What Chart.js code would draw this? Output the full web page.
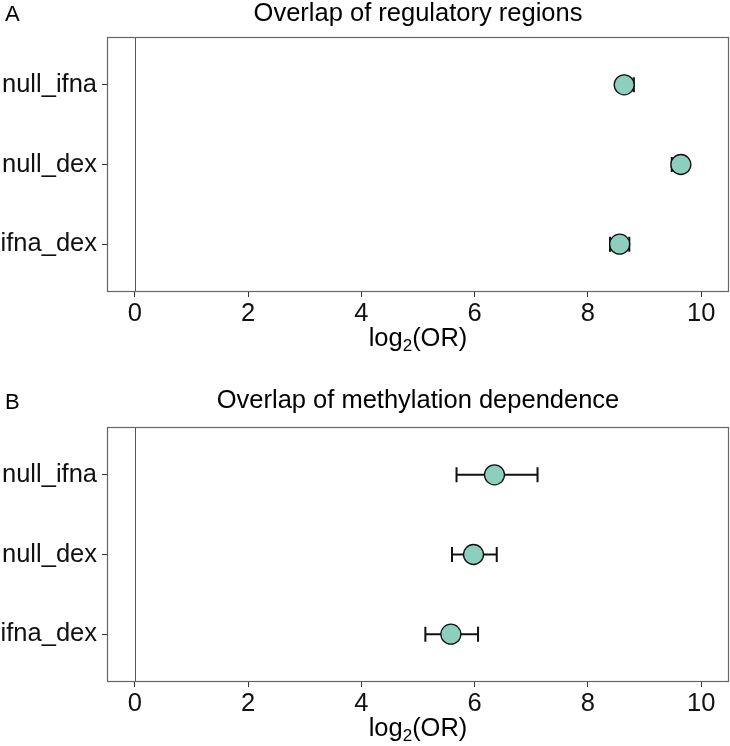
<!DOCTYPE html>
<html>
<head>
<meta charset="utf-8">
<script src="https://cdn.jsdelivr.net/npm/chart.js@4.4.1/dist/chart.umd.min.js"></script>
<style>
  html, body { margin: 0; padding: 0; background: #fff; overflow: hidden; }
  #wrap { position: relative; width: 730px; height: 746px; }
  canvas { position: absolute; left: 0; }
</style>
</head>
<body>
<div id="wrap">
  <canvas id="chartA" width="730" height="373" style="top:0"></canvas>
  <canvas id="chartB" width="730" height="373" style="top:373px"></canvas>
</div>
<script>
// categories, top to bottom
const categories = ['null_ifna', 'null_dex', 'ifna_dex'];
const xTicks = [0, 2, 4, 6, 8, 10];

// panel A: overlap of regulatory regions (log2 OR with CI)
const regOR   = [8.64, 9.64, 8.56];
const regLow  = [8.53, 9.48, 8.39];
const regHigh = [8.81, 9.73, 8.73];

// panel B: overlap of methylation dependence
const methOR   = [6.35, 5.98, 5.58];
const methLow  = [5.68, 5.60, 5.13];
const methHigh = [7.11, 6.39, 6.06];

const FONT = "'Liberation Sans', Arial, Helvetica, sans-serif";
const FS = 25.5;

// error bars, zero line, frame, titles
const decor = {
    id: 'decor',
    afterLayout(chart) {
        // chart.js keeps a right margin for the last x label; the panel runs to the edge
        const a = chart.chartArea, xs = chart.scales.x;
        const right = chart.width - 1;
        a.right = right; a.width = right - a.left;
        xs.right = right; xs.width = right - xs.left;
        xs.configure();
    },
    beforeDatasetsDraw(chart, args, opts) {
        const ctx = chart.ctx;
        const xs = chart.scales.x, ys = chart.scales.y;
        const a = chart.chartArea;
        ctx.save();
        // vertical line at 0
        ctx.strokeStyle = '#555';
        ctx.lineWidth = 1;
        const x0 = Math.round(xs.getPixelForValue(0)) + 0.5;
        ctx.beginPath();
        ctx.moveTo(x0, a.top);
        ctx.lineTo(x0, a.bottom);
        ctx.stroke();
        // error bars
        ctx.strokeStyle = '#111';
        ctx.lineWidth = 2;
        opts.low.forEach((lo, i) => {
            const hi = opts.high[i];
            const y = ys.getPixelForValue(categories.length - i);
            const xl = xs.getPixelForValue(lo), xh = xs.getPixelForValue(hi);
            ctx.beginPath();
            ctx.moveTo(xl, y); ctx.lineTo(xh, y);
            ctx.moveTo(xl, y - 7.5); ctx.lineTo(xl, y + 7.5);
            ctx.moveTo(xh, y - 7.5); ctx.lineTo(xh, y + 7.5);
            ctx.stroke();
        });
        ctx.restore();
    },
    afterDraw(chart, args, opts) {
        const ctx = chart.ctx;
        const a = chart.chartArea;
        ctx.save();
        // frame
        ctx.strokeStyle = '#666';
        ctx.lineWidth = 1.2;
        ctx.strokeRect(a.left + 0.5, a.top + 0.5, a.right - a.left - 1, a.bottom - a.top - 1);
        ctx.fillStyle = '#000';
        ctx.textBaseline = 'alphabetic';
        // panel letter
        ctx.font = `22px ${FONT}`;
        ctx.textAlign = 'left';
        ctx.fillText(opts.letter, 5, opts.letterY);
        // title
        ctx.font = `${FS}px ${FONT}`;
        ctx.textAlign = 'center';
        const cx = (a.left + a.right) / 2;
        ctx.fillText(opts.title, cx, opts.titleY);
        // x axis title log2(OR) with subscript
        ctx.textAlign = 'left';
        const big = `${FS}px ${FONT}`, small = `17px ${FONT}`;
        ctx.font = big;
        const w1 = ctx.measureText('log').width;
        const w3 = ctx.measureText('(OR)').width;
        ctx.font = small;
        const w2 = ctx.measureText('2').width;
        let x = cx - (w1 + w2 + w3) / 2;
        const by = a.bottom + opts.axisTitleOffset;
        ctx.font = big; ctx.fillText('log', x, by); x += w1;
        ctx.font = small; ctx.fillText('2', x, by + 5); x += w2;
        ctx.font = big; ctx.fillText('(OR)', x, by);
        ctx.restore();
    }
};

function makePanel(id, title, letter, vals, low, high, padTop, axisH, letterY, titleY) {
    const data = categories.map((c, i) => ({ x: vals[i], y: categories.length - i }));
    return new Chart(document.getElementById(id), {
        type: 'scatter',
        data: {
            datasets: [{
                data: data,
                pointRadius: 10,
                pointHoverRadius: 10,
                pointBackgroundColor: '#8dcfbf',
                pointBorderColor: '#111',
                pointBorderWidth: 1.3
            }]
        },
        options: {
            responsive: false,
            animation: false,
            events: [],
            layout: { padding: { top: padTop, right: 1, left: 0, bottom: 0 } },
            plugins: {
                legend: { display: false },
                tooltip: { enabled: false },
                decor: {
                    low: low, high: high, title: title, letter: letter,
                    letterY: letterY, titleY: titleY, axisTitleOffset: 54
                }
            },
            scales: {
                x: {
                    type: 'linear',
                    min: -0.49,
                    max: 10.49,
                    afterBuildTicks: s => { s.ticks = xTicks.map(v => ({ value: v })); },
                    afterFit: s => { s.height = axisH; },
                    border: { display: false },
                    grid: { drawOnChartArea: false, drawTicks: true, tickLength: 5, color: '#333', lineWidth: 1 },
                    ticks: { color: '#111', font: { family: FONT, size: FS }, padding: 2, maxRotation: 0 }
                },
                y: {
                    type: 'linear',
                    min: 0.4,
                    max: 3.6,
                    afterBuildTicks: s => { s.ticks = categories.map((c, i) => ({ value: categories.length - i })); },
                    afterFit: s => { s.width = 107; s.paddingTop = 0; s.paddingBottom = 0; },
                    border: { display: false },
                    grid: { drawOnChartArea: false, drawTicks: true, tickLength: 5, color: '#333', lineWidth: 1 },
                    ticks: {
                        color: '#111',
                        font: { family: FONT, size: FS },
                        padding: 5,
                        callback: v => categories[categories.length - v]
                    }
                }
            }
        },
        plugins: [decor]
    });
}

makePanel('chartA', 'Overlap of regulatory regions', 'A', regOR, regLow, regHigh, 37, 81, 21, 21);
makePanel('chartB', 'Overlap of methylation dependence', 'B', methOR, methLow, methHigh, 54, 64, 36, 35);
</script>
</body>
</html>
